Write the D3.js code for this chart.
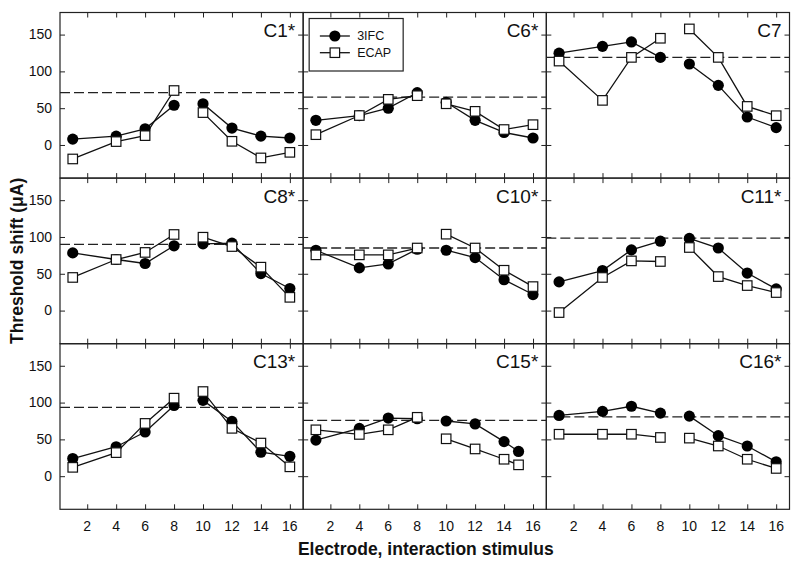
<!DOCTYPE html>
<html>
<head>
<meta charset="utf-8">
<script src="https://cdn.jsdelivr.net/npm/d3@7"></script>
<style>
  body { margin: 0; background: #fff; }
  svg { display: block; font-family: "Liberation Sans", Arial, sans-serif; }
</style>
</head>
<body>
<svg id="chart" width="800" height="562"></svg>
<script>
// ---- Data ----
const panelNames = ["C1*", "C6*", "C7", "C8*", "C10*", "C11*", "C13*", "C15*", "C16*"];
const electrodes = [1, 4, 6, 8, 10, 12, 14, 16];
const electrodesC15 = [1, 4, 6, 8, 10, 12, 14, 15];
const ifc = [
  [8, 12, 22, 54, 56, 23, 12, 9.5],
  [33.5, 40, 50, 71, 58, 33.5, 17, 9.5],
  [124.7, 134, 140, 119, 110, 81, 38, 23.6],
  [78.4, 69.4, 64, 88, 90.6, 91.6, 50.3, 30],
  [82, 58, 63.4, 83.4, 82, 72, 42, 21.8],
  [39, 54.4, 82.5, 94.3, 98, 85, 51, 29.4],
  [24, 40, 60, 96, 103, 74.4, 32.6, 27],
  [49, 65, 79, 78, 75, 71, 47, 33.6],
  [82.5, 88, 95, 85.7, 81.6, 55, 41, 19.5]
];
const ecap = [
  [-19, 4.6, 12.7, 74, 44, 5, -17.6, -10],
  [14, 40, 62, 67, 56, 45.7, 21, 27.6],
  [114, 60.6, 119, 145, 157.7, 119, 52.4, 39.8],
  [45, 69.4, 79, 103.4, 99.7, 87, 59, 18],
  [75.7, 75.7, 75.7, 85, 103.8, 85, 54.8, 32.6],
  [-2.7, 45, 67.5, 66.7, 85.7, 46.2, 34, 24.5],
  [12, 32, 71.7, 106, 115, 65, 45, 12.7],
  [63, 56.7, 63, 80, 50.8, 37, 23, 15.4],
  [57, 57, 57, 52.6, 51.7, 41, 23, 10.5]
];
const baseline = [71, 65, 119, 90, 85, 98.4, 93.4, 75.7, 80.7];
const xTicks = [2, 4, 6, 8, 10, 12, 14, 16];
const yTicks = [0, 50, 100, 150];
const seriesNames = ["3IFC", "ECAP"];

// ---- Layout ----
const svg = d3.select("#chart");
const mLeft = 60, mRight = 789.5, mTop = 12.5, mBottom = 509.3;
const nCols = 3, nRows = 3;
const pw = (mRight - mLeft) / nCols, ph = (mBottom - mTop) / nRows;

const x = d3.scaleLinear().domain([0.12, 16.92]).range([0, pw]);
const y = d3.scaleLinear().domain([-45, 180]).range([ph, 0]);

const line = d3.line().x(d => x(d[0])).y(d => y(d[1]));

panelNames.forEach((name, i) => {
  const col = i % nCols, row = Math.floor(i / nCols);
  const g = svg.append("g").attr("transform", `translate(${mLeft + col * pw},${mTop + row * ph})`);
  const xs = name === "C15*" ? electrodesC15 : electrodes;

  // inward ticks on all four sides
  const tl = 5;
  g.append("g").call(d3.axisTop(x).tickValues(xTicks).tickSize(-tl).tickFormat(""))
    .call(a => a.select(".domain").remove());
  g.append("g").attr("transform", `translate(0,${ph})`)
    .call(d3.axisBottom(x).tickValues(xTicks).tickSize(-tl).tickFormat(""))
    .call(a => a.select(".domain").remove());
  g.append("g").call(d3.axisLeft(y).tickValues(yTicks).tickSize(-tl).tickFormat(""))
    .call(a => a.select(".domain").remove());
  g.append("g").attr("transform", `translate(${pw},0)`)
    .call(d3.axisRight(y).tickValues(yTicks).tickSize(-tl).tickFormat(""))
    .call(a => a.select(".domain").remove());
  g.selectAll(".tick line").attr("stroke", "#222").attr("stroke-width", 1);

  // tick labels
  if (col === 0) {
    g.selectAll(".ylab").data(yTicks).enter().append("text")
      .attr("x", -8).attr("y", d => y(d)).attr("dy", "0.35em")
      .attr("text-anchor", "end").attr("font-size", 14).attr("fill", "#111")
      .text(d => d);
  }
  if (row === nRows - 1) {
    g.selectAll(".xlab").data(xTicks).enter().append("text")
      .attr("x", d => x(d)).attr("y", ph + 21.5)
      .attr("text-anchor", "middle").attr("font-size", 14).attr("fill", "#111")
      .text(d => d);
  }

  // frame
  g.append("rect").attr("width", pw).attr("height", ph)
    .attr("fill", "none").attr("stroke", "#222").attr("stroke-width", 1.2);

  // dashed baseline
  g.append("line").attr("x1", 0).attr("x2", pw)
    .attr("y1", y(baseline[i])).attr("y2", y(baseline[i]))
    .attr("stroke", "#222").attr("stroke-width", 1.3).attr("stroke-dasharray", "10,4");

  // series lines (gap between electrodes 8 and 10)
  const sets = [ifc[i], ecap[i]];
  sets.forEach((vals) => {
    const pts = xs.map((xv, k) => [xv, vals[k]]);
    const segA = pts.filter(p => p[0] <= 8), segB = pts.filter(p => p[0] >= 10);
    [segA, segB].forEach(seg => {
      g.append("path").attr("d", line(seg)).attr("fill", "none")
        .attr("stroke", "#111").attr("stroke-width", 1.3);
    });
  });
  // markers
  sets.forEach((vals, s) => {
    const pts = xs.map((xv, k) => [xv, vals[k]]);
    if (s === 0) {
      g.selectAll(null).data(pts).enter().append("circle")
        .attr("cx", d => x(d[0])).attr("cy", d => y(d[1])).attr("r", 5.6)
        .attr("fill", "#000");
    } else {
      const sz = 9.5;
      g.selectAll(null).data(pts).enter().append("rect")
        .attr("x", d => x(d[0]) - sz / 2).attr("y", d => y(d[1]) - sz / 2)
        .attr("width", sz).attr("height", sz)
        .attr("fill", "#fff").attr("stroke", "#111").attr("stroke-width", 1.2);
    }
  });

  // panel label
  g.append("text").attr("x", pw - 8).attr("y", 24.5)
    .attr("text-anchor", "end").attr("font-size", 19).attr("fill", "#111")
    .text(name);

  // legend in second panel
  if (i === 1) {
    const lg = g.append("g").attr("transform", "translate(6,6)");
    lg.append("rect").attr("width", 94).attr("height", 52.5)
      .attr("fill", "#fff").attr("stroke", "#222").attr("stroke-width", 1.2);
    seriesNames.forEach((nm, k) => {
      const yy = 17.5 + k * 16.7;
      lg.append("line").attr("x1", 10.7).attr("x2", 40.7).attr("y1", yy).attr("y2", yy)
        .attr("stroke", "#111").attr("stroke-width", 1.3);
      if (k === 0) {
        lg.append("circle").attr("cx", 25.7).attr("cy", yy).attr("r", 5.6).attr("fill", "#000");
      } else {
        lg.append("rect").attr("x", 25.7 - 4.75).attr("y", yy - 4.75).attr("width", 9.5).attr("height", 9.5)
          .attr("fill", "#fff").attr("stroke", "#111").attr("stroke-width", 1.2);
      }
      lg.append("text").attr("x", 48).attr("y", yy).attr("dy", "0.35em")
        .attr("font-size", 12.5).attr("fill", "#111").text(nm);
    });
  }
});

// axis titles
svg.append("text")
  .attr("transform", `translate(23,${(mTop + mBottom) / 2}) rotate(-90)`)
  .attr("text-anchor", "middle").attr("font-size", 17.5).attr("font-weight", "bold").attr("fill", "#111")
  .text("Threshold shift (\u03BCA)");
svg.append("text")
  .attr("x", (mLeft + mRight) / 2 + 1).attr("y", 555)
  .attr("text-anchor", "middle").attr("font-size", 17.5).attr("font-weight", "bold").attr("fill", "#111")
  .text("Electrode, interaction stimulus");
</script>
</body>
</html>
